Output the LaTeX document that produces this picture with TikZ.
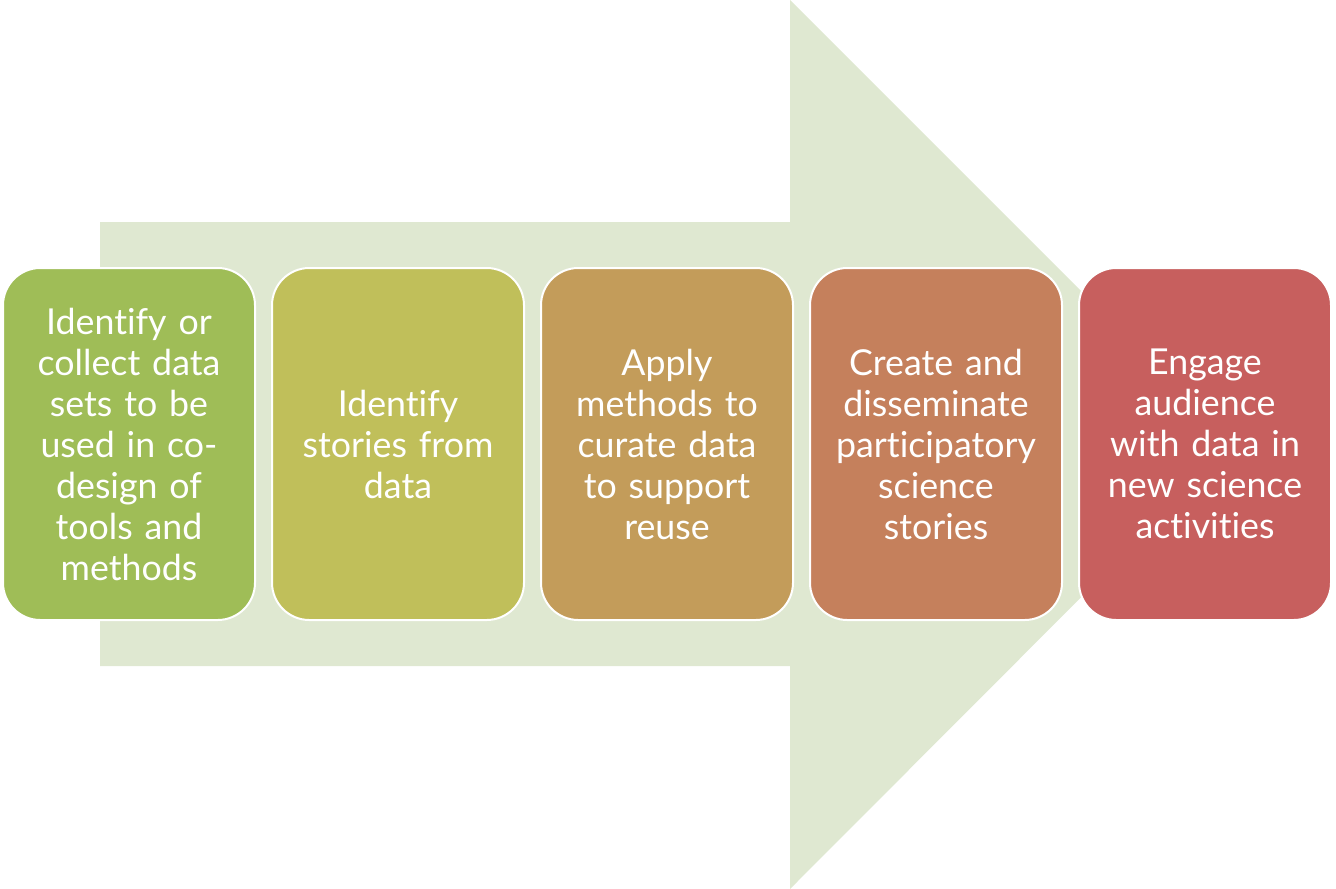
\documentclass[tikz,border=0pt]{standalone}
\usepackage{fontspec}
\setmainfont{Lato}[Ligatures={NoCommon,NoRare}]
\begin{document}
\definecolor{arrowfill}{HTML}{DFE8D1}
\definecolor{stepA}{HTML}{9FBD57}
\definecolor{stepB}{HTML}{C0BF5A}
\definecolor{stepC}{HTML}{C39C5A}
\definecolor{stepD}{HTML}{C5805C}
\definecolor{stepE}{HTML}{C75F5E}
\begin{tikzpicture}[x=0.75pt,y=-0.75pt,
  stepbox/.style={draw=white,line width=1.5pt,rounded corners=28pt,
    minimum width=189pt,minimum height=264pt,inner sep=0pt,
    text=white,align=center,text width=180pt,
    font=\fontsize{26.8pt}{30.75pt}\selectfont}]
\useasboundingbox (0,0) rectangle (1336,889);
% big background arrow
\fill[arrowfill] (100,222) -- (790,222) -- (790,0) -- (1234,444)
  -- (790,889) -- (790,666) -- (100,666) -- cycle;
% process steps
\node[stepbox,fill=stepA] (s1) at (129,444) {Identify or\\collect data\\sets to be\\used in co-\\design of\\tools and\\methods};
\node[stepbox,fill=stepB] (s2) at (398,444) {Identify\\stories from\\data};
\node[stepbox,fill=stepC] (s3) at (667,444) {Apply\\methods to\\curate data\\to support\\reuse};
\node[stepbox,fill=stepD] (s4) at (936,444) {Create and\\disseminate\\participatory\\science\\stories};
\node[stepbox,fill=stepE] (s5) at (1205,444) {Engage\\audience\\with data in\\new science\\activities};
\end{tikzpicture}
\end{document}
